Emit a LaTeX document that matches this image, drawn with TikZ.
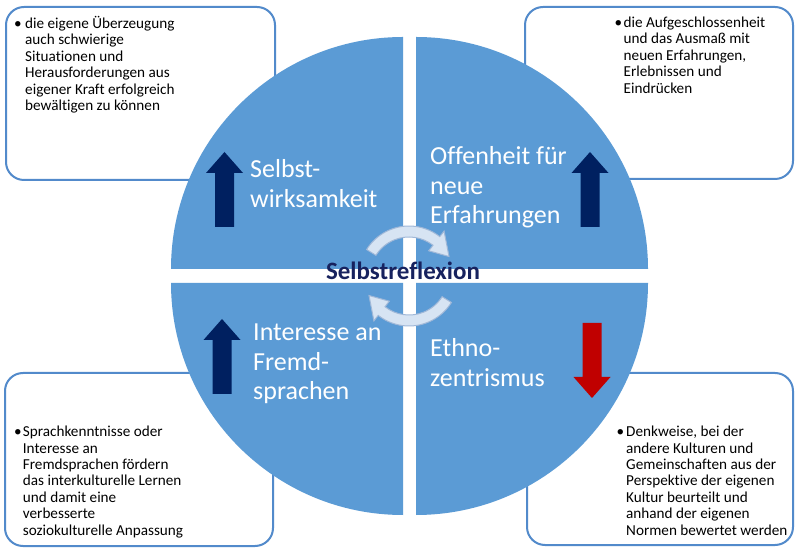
\documentclass[tikz,border=0pt]{standalone}
\usepackage{fontspec}
\setmainfont{Carlito}[Ligatures=NoCommon]
\definecolor{qblue}{RGB}{91,155,213}
\definecolor{boxline}{RGB}{82,138,203}
\definecolor{navyarrow}{RGB}{0,32,96}
\definecolor{redarrow}{RGB}{192,0,0}
\definecolor{ctext}{RGB}{23,34,94}
\definecolor{cycfill}{RGB}{215,228,243}
\definecolor{cycline}{RGB}{160,184,216}
\newcommand\mybul[1]{\makebox[#1][l]{\textbullet}}
\begin{document}
\begin{tikzpicture}[x=1pt,y=1pt,
  infobox/.style={draw=boxline, line width=2pt, fill=white, rounded corners=18pt},
  quarter/.style={fill=qblue},
  boxtext/.style={inner sep=0pt, anchor=base west, font=\fontsize{15.2}{16.4}\selectfont, text=black},
  qtext/.style={inner sep=0pt, anchor=base west, text=white, font=\fontsize{26}{29.5}\selectfont},
  cyc/.style={fill=cycfill, draw=cycline, line width=1pt},
  bigarrow/.pic={\path[pic actions] (-9.5,0) -- (-9.5,54) -- (-18.5,54) -- (0,75) -- (18.5,54) -- (9.5,54) -- (9.5,0) -- cycle;}
]
\useasboundingbox (0,0) rectangle (800,554);
\fill[white] (0,0) rectangle (800,554);

% info boxes
\draw[infobox] (6,374) rectangle (275,547);
\draw[infobox] (525,375) rectangle (793,547);
\draw[infobox] (5,8) rectangle (273,181);
\draw[infobox] (527,9) rectangle (793,181);

% box texts
\node[boxtext] (t1) at (14,525.5) {\begin{tabular}[t]{@{}l@{}l@{}}\mybul{11pt}&die eigene Überzeugung\\&auch schwierige\\&Situationen und\\&Herausforderungen aus\\&eigener Kraft erfolgreich\\&bewältigen zu können\end{tabular}};
\node[boxtext] (t2) at (614.5,526.5) {\begin{tabular}[t]{@{}l@{}l@{}}\mybul{9pt}&die Aufgeschlossenheit\\&und das Ausmaß mit\\&neuen Erfahrungen,\\&Erlebnissen und\\&Eindrücken\end{tabular}};
\node[boxtext] (t3) at (14,117.3) {\begin{tabular}[t]{@{}l@{}l@{}}\mybul{8.7pt}&Sprachkenntnisse oder\\&Interesse an\\&Fremdsprachen fördern\\&das interkulturelle Lernen\\&und damit eine\\&verbesserte\\&soziokulturelle Anpassung\end{tabular}};
\node[boxtext] (t4) at (616.5,117.3) {\begin{tabular}[t]{@{}l@{}l@{}}\mybul{9.5pt}&Denkweise, bei der\\&andere Kulturen und\\&Gemeinschaften aus der\\&Perspektive der eigenen\\&Kultur beurteilt und\\&anhand der eigenen\\&Normen bewertet werden\end{tabular}};

% quarter pies
\fill[quarter] (403,285) -- (171,285) arc[start angle=180,end angle=90,radius=232] -- cycle;
\fill[quarter] (416,285) -- (416,517) arc[start angle=90,end angle=0,radius=232] -- cycle;
\fill[quarter] (403,271) -- (171,271) arc[start angle=180,end angle=270,radius=232] -- cycle;
\fill[quarter] (416,271) -- (648,271) arc[start angle=0,end angle=-90,radius=232] -- cycle;

% block arrows
\pic[fill=navyarrow] at (224.5,327) {bigarrow};
\pic[fill=navyarrow] at (590,327) {bigarrow};
\pic[fill=navyarrow] at (222,160) {bigarrow};
\pic[fill=redarrow, rotate=180] at (592,231) {bigarrow};

% quadrant labels
\node[qtext] (q1) at (250,376) {\begin{tabular}[t]{@{}l@{}}Selbst-\\wirksamkeit\end{tabular}};
\node[qtext] (q2) at (430,389) {\begin{tabular}[t]{@{}l@{}}Offenheit für\\neue\\Erfahrungen\end{tabular}};
\node[qtext] (q3) at (253,213) {\begin{tabular}[t]{@{}l@{}}Interesse an\\Fremd-\\sprachen\end{tabular}};
\node[qtext] (q4) at (430,197) {\begin{tabular}[t]{@{}l@{}}Ethno-\\zentrismus\end{tabular}};

% circular arrows
\begin{scope}[shift={(409,278)}]
\path[cyc] (148:50) arc[start angle=148,end angle=52,radius=50] -- (52:57) -- (26:44.5) -- (52:32) -- (52:39) arc[start angle=52,end angle=148,radius=39] -- cycle;
\path[cyc] (-32:50) arc[start angle=-32,end angle=-128,radius=50] -- (-128:57) -- (-154:44.5) -- (-128:32) -- (-128:39) arc[start angle=-128,end angle=-32,radius=39] -- cycle;
\end{scope}

\node[font=\bfseries\fontsize{25}{28}\selectfont, text=ctext, anchor=base, inner sep=0pt] (c) at (403,274) {Selbstreflexion};
\end{tikzpicture}
\end{document}
